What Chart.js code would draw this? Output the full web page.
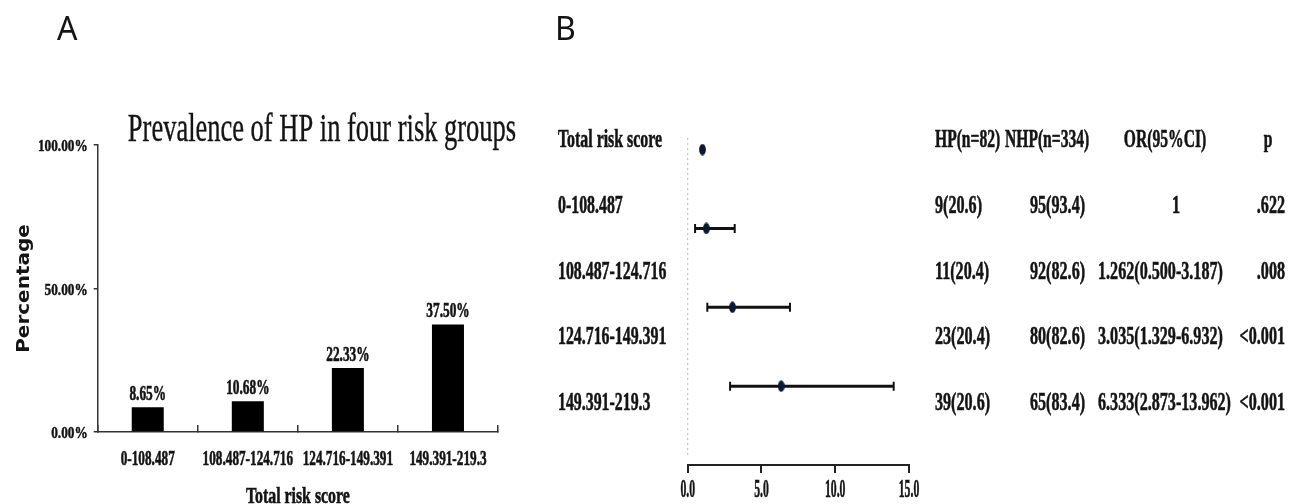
<!DOCTYPE html>
<html>
<head>
<meta charset="utf-8">
<script src="https://cdn.jsdelivr.net/npm/chart.js@4.4.1/dist/chart.umd.min.js"></script>
<style>
  body { margin: 0; background: #fff; }
  #wrap { position: relative; width: 1296px; height: 504px; }
  .panel { position: absolute; top: 0; height: 504px; }
  #panelA { left: 0; width: 540px; }
  #panelB { left: 540px; width: 756px; }
</style>
</head>
<body>
<div id="wrap">
  <div class="panel" id="panelA"><canvas id="barChart"></canvas></div>
  <div class="panel" id="panelB"><canvas id="forestChart"></canvas></div>
</div>
<script>
// panel A data
const groups = ['0-108.487', '108.487-124.716', '124.716-149.391', '149.391-219.3'];
const prevalence = [8.65, 10.68, 22.33, 37.50];
const yTicks = [0, 50, 100];

// panel B data
const rowLabels = ['Total risk score', '0-108.487', '108.487-124.716', '124.716-149.391', '149.391-219.3'];
const tableHeader = ['HP(n=82)', 'NHP(n=334)', 'OR(95%CI)', 'p'];
const hpCounts = ['9(20.6)', '11(20.4)', '23(20.4)', '39(20.6)'];
const nhpCounts = ['95(93.4)', '92(82.6)', '80(82.6)', '65(83.4)'];
const orText = ['1', '1.262(0.500-3.187)', '3.035(1.329-6.932)', '6.333(2.873-13.962)'];
const pText = ['.622', '.008', '<0.001', '<0.001'];
const orValues = [1, 1.262, 3.035, 6.333];
const ciLow = [null, 0.500, 1.329, 2.873];
const ciHigh = [null, 3.187, 6.932, 13.962];
const refValue = 0;

const ink = '#141414';
const serif = '"Liberation Serif", "Times New Roman", serif';

// the picture is squeezed sideways, so text is drawn with a horizontal scale
function sq(ctx, text, x, y, font, sx, align, heavy) {
  ctx.save();
  ctx.font = font;
  ctx.fillStyle = ink;
  ctx.strokeStyle = ink;
  ctx.textAlign = align || 'center';
  ctx.textBaseline = 'alphabetic';
  ctx.translate(x, y);
  ctx.scale(sx, 1);
  ctx.fillText(text, 0, 0);
  if (heavy) {
    ctx.lineWidth = heavy;
    ctx.strokeText(text, 0, 0);
  }
  ctx.restore();
}

const barText = {
  id: 'barText',
  afterDraw(chart) {
    const ctx = chart.ctx;
    const area = chart.chartArea;
    const xs = chart.scales.x;
    const ys = chart.scales.y;

    // panel letter
    ctx.save();
    ctx.font = '32px "Noto Sans", "Open Sans", sans-serif';
    ctx.fillStyle = ink;
    ctx.fillText('A', 57, 40);
    ctx.restore();

    sq(ctx, 'Prevalence of HP in four risk groups', 322, 141, '40px ' + serif, 0.662, 'center', 0.4);

    ys.ticks.forEach(t => {
      sq(ctx, t.value.toFixed(2) + '%', area.left - 10, ys.getPixelForValue(t.value) + 6,
        'bold 17px ' + serif, 0.78, 'right', 0.5);
    });

    groups.forEach((g, i) => {
      sq(ctx, g, xs.getPixelForValue(i), 465, 'bold 21px ' + serif, 0.63, 'center', 0.6);
    });

    chart.getDatasetMeta(0).data.forEach((bar, i) => {
      sq(ctx, prevalence[i].toFixed(2) + '%', bar.x, bar.y - 7, 'bold 20px ' + serif, 0.667, 'center', 0.6);
    });

    sq(ctx, 'Total risk score', (area.left + area.right) / 2, 503, 'bold 24px ' + serif, 0.66, 'center', 0.6);

    ctx.save();
    ctx.translate(24, (area.top + area.bottom) / 2);
    ctx.rotate(-Math.PI / 2);
    ctx.scale(1, 0.9);
    ctx.font = 'bold 20px "DejaVu Sans", Verdana, sans-serif';
    ctx.fillStyle = ink;
    ctx.textAlign = 'center';
    ctx.textBaseline = 'middle';
    ctx.fillText('Percentage', 0, 0);
    ctx.restore();
  }
};

new Chart(document.getElementById('barChart'), {
  type: 'bar',
  data: {
    labels: groups,
    datasets: [{
      data: prevalence,
      backgroundColor: '#000',
      barPercentage: 0.32,
      categoryPercentage: 1
    }]
  },
  options: {
    responsive: true,
    maintainAspectRatio: false,
    animation: false,
    layout: { padding: { left: 0, right: 42, top: 145, bottom: 0 } },
    plugins: { legend: { display: false }, tooltip: { enabled: false } },
    scales: {
      x: {
        ticks: { display: false },
        grid: { offset: true, drawOnChartArea: false, color: '#333', lineWidth: 1.5, tickLength: -7 },
        border: { color: '#333', width: 1.5 },
        afterFit(scale) { scale.height = 72; }
      },
      y: {
        min: 0,
        max: 100,
        afterBuildTicks(scale) { scale.ticks = yTicks.map(v => ({ value: v })); },
        ticks: { display: false },
        grid: { drawOnChartArea: false, color: '#333', lineWidth: 1.5, tickLength: 4 },
        border: { color: '#333', width: 1.5 },
        afterFit(scale) { scale.width = 97.7; }
      }
    }
  },
  plugins: [barText]
});

// squeezed dot used as point style
const dot = document.createElement('canvas');
dot.width = 7;
dot.height = 12;
const dctx = dot.getContext('2d');
dctx.fillStyle = '#0b1a30';
dctx.beginPath();
dctx.ellipse(3.5, 6, 3.4, 5.8, 0, 0, Math.PI * 2);
dctx.fill();

const ciSets = [];
orValues.forEach((v, i) => {
  if (ciLow[i] === null) return;
  ciSets.push({
    data: [{ x: ciLow[i], y: i }, { x: ciHigh[i], y: i }],
    showLine: true,
    borderColor: '#111',
    borderWidth: 3,
    pointStyle: 'line',
    rotation: 90,
    pointRadius: 4.5,
    pointBorderWidth: 2,
    pointBorderColor: '#111'
  });
});

const forestText = {
  id: 'forestText',
  beforeDatasetsDraw(chart) {
    const ctx = chart.ctx;
    const x0 = chart.scales.x.getPixelForValue(refValue);
    ctx.save();
    ctx.strokeStyle = '#bbb';
    ctx.lineWidth = 1;
    ctx.setLineDash([2, 3]);
    ctx.beginPath();
    ctx.moveTo(x0, 138);
    ctx.lineTo(x0, 457);
    ctx.stroke();
    ctx.restore();
  },
  afterDraw(chart) {
    const ctx = chart.ctx;
    const xs = chart.scales.x;
    const f = 'bold 26px ' + serif;
    const s = 0.62;
    const h = 0.6;

    ctx.save();
    ctx.font = '32px "Noto Sans", "Open Sans", sans-serif';
    ctx.fillStyle = ink;
    ctx.fillText('B', 15, 40);
    ctx.restore();

    xs.ticks.forEach(t => {
      sq(ctx, t.value.toFixed(1), xs.getPixelForValue(t.value), 497, 'bold 26px ' + serif, 0.45, 'center', h);
    });

    const base = i => 147 + i * 65.75;
    rowLabels.forEach((r, i) => sq(ctx, r, 18, base(i), f, 0.61, 'left', h));

    sq(ctx, tableHeader[0], 395, base(0), f, 0.6, 'left', h);
    sq(ctx, tableHeader[1], 465, base(0), f, 0.6, 'left', h);
    sq(ctx, tableHeader[2], 625, base(0), f, 0.6, 'center', h);
    sq(ctx, tableHeader[3], 728, base(0), f, 0.6, 'center', h);

    hpCounts.forEach((t, i) => {
      const y = base(i + 1);
      sq(ctx, t, 395, y, f, s, 'left', h);
      sq(ctx, nhpCounts[i], 490, y, f, s, 'left', h);
      if (ciLow[i] === null) sq(ctx, orText[i], 636, y, f, s, 'center', h);
      else sq(ctx, orText[i], 558, y, f, s, 'left', h);
      sq(ctx, pText[i], 745, y, f, s, 'right', h);
    });
  }
};

new Chart(document.getElementById('forestChart'), {
  type: 'scatter',
  data: {
    datasets: [{
      data: orValues.map((v, i) => ({ x: v, y: i })),
      pointStyle: dot,
      pointRadius: 6
    }].concat(ciSets)
  },
  options: {
    responsive: true,
    maintainAspectRatio: false,
    animation: false,
    layout: { padding: { left: 147.7, right: 387, top: 110.2, bottom: 0 } },
    plugins: { legend: { display: false }, tooltip: { enabled: false } },
    scales: {
      x: {
        type: 'linear',
        min: 0,
        max: 15,
        ticks: { display: false, stepSize: 5 },
        grid: { drawOnChartArea: false, color: '#222', lineWidth: 2, tickLength: 8 },
        border: { color: '#222', width: 2 },
        afterFit(scale) { scale.height = 39; }
      },
      y: {
        display: false,
        reverse: true,
        min: -0.5,
        max: 4
      }
    }
  },
  plugins: [forestText]
});
</script>
</body>
</html>
